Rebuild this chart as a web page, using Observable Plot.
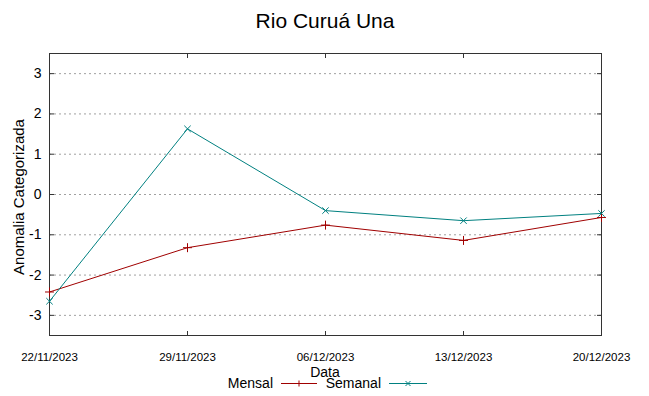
<!DOCTYPE html>
<html>
<head>
<meta charset="utf-8">
<script src="https://cdn.jsdelivr.net/npm/d3@7"></script>
<script src="https://cdn.jsdelivr.net/npm/@observablehq/plot@0.6"></script>
<style>
  html, body { margin: 0; padding: 0; background: #fff; }
  #wrap { position: relative; width: 649px; height: 396px; font-family: "Liberation Sans", Arial, sans-serif; }
  #overlay { position: absolute; left: 0; top: 0; pointer-events: none; }
</style>
</head>
<body>
<div id="wrap"></div>
<script>
const titleText = "Rio Curuá Una";
const xLabel = "Data";
const yLabel = "Anomalia Categorizada";
const dates = ["2023-11-22", "2023-11-29", "2023-12-06", "2023-12-13", "2023-12-20"];
const mensal = [-2.42, -1.32, -0.76, -1.14, -0.57];
const semanal = [-2.65, 1.63, -0.40, -0.65, -0.47];
const yTicks = [-3, -2, -1, 0, 1, 2, 3];
const seriesNames = ["Mensal", "Semanal"];
const seriesColors = ["#a00000", "#008080"];

const parse = d3.utcParse("%Y-%m-%d");
const xDates = dates.map(parse);
const rowsM = xDates.map((d, i) => ({date: d, value: mensal[i]}));
const rowsS = xDates.map((d, i) => ({date: d, value: semanal[i]}));

const W = 649, H = 396;
const chart = Plot.plot({
  width: W,
  height: H,
  marginLeft: 49,
  marginRight: 48,
  marginTop: 53,
  marginBottom: 61,
  style: {fontFamily: "Liberation Sans, Arial, sans-serif", color: "#000", background: "#fff"},
  x: {type: "utc", domain: [xDates[0], xDates[xDates.length - 1]]},
  y: {domain: [-3.5, 3.5]},
  marks: [
    Plot.ruleY(yTicks, {stroke: "#a0a0a0", strokeDasharray: "2,3", strokeWidth: 1}),
    Plot.axisY(yTicks, {anchor: "left", tickSize: 0, tickPadding: 8, fontSize: 14, tickFormat: d => `${d}`, label: null}),
    Plot.axisY(yTicks, {anchor: "left", tickSize: -5, text: null, label: null, stroke: "#333"}),
    Plot.axisY(yTicks, {anchor: "right", tickSize: -5, text: null, label: null, stroke: "#333"}),
    Plot.axisX(xDates, {anchor: "bottom", tickSize: 0, tickPadding: 17, fontSize: 11.5, tickFormat: d3.utcFormat("%d/%m/%Y"), label: null}),
    Plot.axisX(xDates, {anchor: "bottom", tickSize: -4, text: null, label: null, stroke: "#333"}),
    Plot.axisX(xDates, {anchor: "top", tickSize: -4, text: null, label: null, stroke: "#333"}),
    Plot.frame({stroke: "#333", strokeWidth: 1}),
    Plot.line(rowsM, {x: "date", y: "value", stroke: seriesColors[0], strokeWidth: 1}),
    Plot.dot(rowsM, {x: "date", y: "value", symbol: "plus", stroke: seriesColors[0], r: 3, strokeWidth: 1}),
    Plot.line(rowsS, {x: "date", y: "value", stroke: seriesColors[1], strokeWidth: 1}),
    Plot.dot(rowsS, {x: "date", y: "value", symbol: "times", stroke: seriesColors[1], r: 3, strokeWidth: 1})
  ]
});
const wrap = document.getElementById("wrap");
wrap.appendChild(chart);

// overlay: title, axis labels, legend (gnuplot style)
const ns = "http://www.w3.org/2000/svg";
const ov = document.createElementNS(ns, "svg");
ov.setAttribute("id", "overlay");
ov.setAttribute("width", W);
ov.setAttribute("height", H);
function addText(str, x, y, size, anchor, transform) {
  const t = document.createElementNS(ns, "text");
  t.setAttribute("x", x);
  t.setAttribute("y", y);
  t.setAttribute("text-anchor", anchor);
  t.setAttribute("font-size", size);
  t.setAttribute("font-family", "Liberation Sans, Arial, sans-serif");
  t.setAttribute("fill", "#000");
  if (transform) t.setAttribute("transform", transform);
  t.textContent = str;
  ov.appendChild(t);
}
addText(titleText, 325, 28, 21, "middle");
addText(xLabel, 325, 377, 14, "middle");
addText(yLabel, 0, 0, 15, "middle", "translate(24,197) rotate(-90)");

const items = [
  {name: seriesNames[0], color: seriesColors[0], textRight: 273, x1: 281, x2: 317, sym: "plus"},
  {name: seriesNames[1], color: seriesColors[1], textRight: 381, x1: 389, x2: 427, sym: "times"}
];
const ly = 383;
for (const it of items) {
  addText(it.name, it.textRight, ly + 5, 14, "end");
  const l = document.createElementNS(ns, "line");
  l.setAttribute("x1", it.x1); l.setAttribute("x2", it.x2);
  l.setAttribute("y1", ly + 0.5); l.setAttribute("y2", ly + 0.5);
  l.setAttribute("stroke", it.color);
  ov.appendChild(l);
  const cx = (it.x1 + it.x2) / 2, r = 3;
  const p = document.createElementNS(ns, "path");
  p.setAttribute("d", it.sym === "plus"
    ? `M${cx - r},${ly + 0.5}H${cx + r}M${cx},${ly - r + 0.5}V${ly + r + 0.5}`
    : `M${cx - 2.5},${ly - 2}L${cx + 2.5},${ly + 3}M${cx - 2.5},${ly + 3}L${cx + 2.5},${ly - 2}`);
  p.setAttribute("stroke", it.color);
  p.setAttribute("fill", "none");
  ov.appendChild(p);
}
wrap.appendChild(ov);
</script>
</body>
</html>
